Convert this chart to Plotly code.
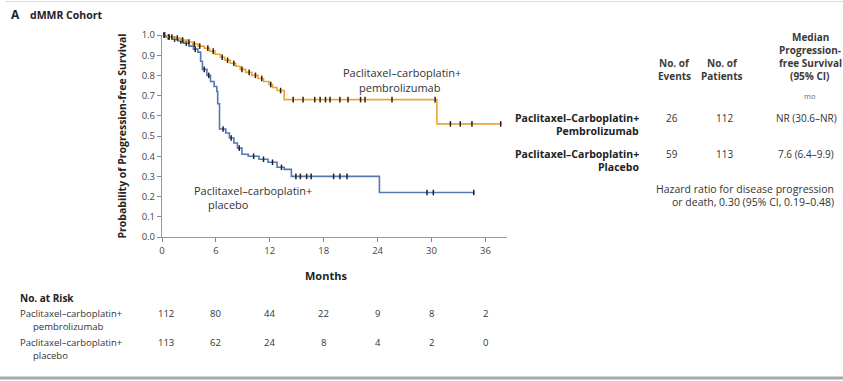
import plotly.graph_objects as go
import numpy as np

# ---------------- data ----------------
pembro_t = [0, 0.6, 1.3, 2.0, 2.8, 3.4, 4.0, 4.7, 5.3, 5.9, 6.5, 7.0, 7.6, 8.2, 8.7, 9.3, 10.0, 10.7,
            11.3, 11.9, 12.3, 12.8, 13.6, 30.6, 37.8]
pembro_s = [1.0, 0.99, 0.985, 0.975, 0.965, 0.955, 0.945, 0.935, 0.92, 0.905, 0.89, 0.875, 0.86, 0.845,
            0.83, 0.815, 0.80, 0.785, 0.77, 0.755, 0.74, 0.725, 0.68, 0.56, 0.56]
pembro_cens = [0.3, 0.8, 1.1, 1.7, 2.3, 3.0, 3.6, 4.2, 5.1, 5.7, 6.7, 7.3, 8.0, 8.9, 9.7, 10.4, 11.1,
               12.1, 13.2, 14.6, 15.7, 17.0, 17.6, 18.2, 18.7, 19.8, 20.7, 22.1, 22.6, 25.6, 30.4,
               32.1, 33.2, 34.5, 37.7]

placebo_t = [0, 0.5, 1.2, 1.8, 2.4, 3.0, 3.5, 4.0, 4.3, 4.5, 5.0, 5.4, 5.8, 6.1, 6.2, 6.4, 7.1, 7.5,
             8.0, 8.4, 8.9, 9.6, 10.8, 11.8, 12.8, 13.6, 14.4, 24.2, 34.8]
placebo_s = [1.0, 0.99, 0.98, 0.97, 0.96, 0.945, 0.93, 0.915, 0.87, 0.83, 0.80, 0.77, 0.745, 0.72,
             0.66, 0.535, 0.515, 0.49, 0.465, 0.44, 0.41, 0.40, 0.385, 0.37, 0.345, 0.335, 0.30,
             0.22, 0.22]
placebo_cens = [0.2, 0.7, 1.4, 2.1, 2.7, 3.7, 4.7, 5.2, 6.8, 7.7, 8.6, 10.2, 11.3, 12.3, 13.3, 14.9,
                15.4, 16.1, 16.6, 19.1, 19.8, 20.6, 29.5, 30.2, 34.7]

risk_months = [0, 6, 12, 18, 24, 30, 36]
risk_pembro = [112, 80, 44, 22, 9, 8, 2]
risk_placebo = [113, 62, 24, 8, 4, 2, 0]

x_ticks = [0, 6, 12, 18, 24, 30, 36]
y_ticks = [0.0, 0.1, 0.2, 0.3, 0.4, 0.5, 0.6, 0.7, 0.8, 0.9, 1.0]

table_cols = ["No. of<br>Events", "No. of<br>Patients", "Median<br>Progression-<br>free Survival<br>(95% CI)"]
row_labels = ["Paclitaxel–Carboplatin+<br>Pembrolizumab", "Paclitaxel–Carboplatin+<br>Placebo"]
events = ["26", "59"]
patients = ["112", "113"]
medians = ["NR (30.6–NR)", "7.6 (6.4–9.9)"]

ORANGE = "#EFA535"
BLUE = "#5577B2"
FONT = "Open Sans"
GRAY = "#444444"


def step_at(ts, ss, c):
    i = np.searchsorted(np.array(ts), c, side="right") - 1
    return ss[max(i, 0)]


fig = go.Figure()
for ts, ss, cens, col in [(placebo_t, placebo_s, placebo_cens, BLUE),
                          (pembro_t, pembro_s, pembro_cens, ORANGE)]:
    fig.add_trace(go.Scatter(x=ts, y=ss, mode="lines", line=dict(color=col, width=1.6, shape="hv"),
                             hoverinfo="skip", showlegend=False, cliponaxis=False))
    fig.add_trace(go.Scatter(x=cens, y=[step_at(ts, ss, c) for c in cens], mode="markers",
                             marker=dict(symbol="line-ns-open", size=4, color="#222",
                                         line=dict(color="#222", width=1.5)),
                             showlegend=False, cliponaxis=False))

fig.update_xaxes(range=[0, 38.4], tickvals=x_ticks, ticks="outside", ticklen=4, tickcolor="#888",
                 showline=True, linecolor="#999", linewidth=1.2, showgrid=False, zeroline=False,
                 tickfont=dict(family=FONT, size=9.5, color=GRAY))
fig.update_yaxes(range=[0, 1.0], tickvals=y_ticks, tickformat=".1f", ticks="outside", ticklen=4,
                 tickcolor="#888", showline=True, linecolor="#999", linewidth=1.2, showgrid=False,
                 zeroline=False, tickfont=dict(family=FONT, size=9.5, color=GRAY),
                 title=dict(text="<b>Probability of Progression-free Survival</b>",
                            font=dict(family=FONT, size=10.5, color="#222"), standoff=12))

ann = []
W, H = 843, 381
L, R, T, B = 162, 336, 35, 144
pw, ph = W - L - R, H - T - B
PX = lambda X: (X - L) / pw
PY = lambda Y: (H - B - Y) / ph


def txt(x, y, s, size=10, xanchor="left", color="#333", bold=False):
    ann.append(dict(x=PX(x), y=PY(y), xref="paper", yref="paper", text=(f"<b>{s}</b>" if bold else s),
                    showarrow=False, xanchor=xanchor, yanchor="middle",
                    font=dict(family=FONT, size=size, color=color)))


txt(9, 15, "A", size=12, bold=True, color="#222")
txt(28, 15, "dMMR Cohort", size=10.5, bold=True, color="#222")
txt(326, 275, "Months", size=11, bold=True, color="#222", xanchor="center")

# curve labels
txt(402, 73, "Paclitaxel–carboplatin+", size=11, xanchor="center")
txt(400, 87, "pembrolizumab", size=11, xanchor="center")
txt(192, 190, "Paclitaxel–carboplatin+", size=11)
txt(206, 204, "placebo", size=11)

# right table
col_x = [674, 722, 810]
hdr_y_bottom = 76
for cx, h in zip(col_x, table_cols):
    lines = h.split("<br>")
    for k, line in enumerate(reversed(lines)):
        txt(cx, hdr_y_bottom - 13 * k, line, size=10, xanchor="center", bold=True, color="#3a3a3a")
txt(810, 96, "mo", size=7.5, xanchor="center", color="#666")
row_y = [118, 154]
val_x = [672, 724, 806]
for ry, lab, e, p, m in zip(row_y, row_labels, events, patients, medians):
    l1, l2 = lab.split("<br>")
    txt(641, ry, l1, size=10.5, xanchor="right", bold=True, color="#222")
    txt(641, ry + 13, l2, size=10.5, xanchor="right", bold=True, color="#222")
    for vx, v in zip(val_x, [e, p, m]):
        txt(vx, ry, v, size=10, xanchor="center")
txt(836, 189, "Hazard ratio for disease progression", size=10.5, xanchor="right")
txt(836, 202, "or death, 0.30 (95% CI, 0.19–0.48)", size=10.5, xanchor="right")

# number at risk
txt(18, 298, "No. at Risk", size=10, bold=True, color="#222")
txt(18, 313, "Paclitaxel–carboplatin+", size=9.5)
txt(31, 326, "pembrolizumab", size=9.5)
txt(18, 342, "Paclitaxel–carboplatin+", size=9.5)
txt(31, 355, "placebo", size=9.5)
for m, a, b in zip(risk_months, risk_pembro, risk_placebo):
    for ry, v in [(313, a), (342, b)]:
        ann.append(dict(x=m + (0.4 if m == 0 else 0), y=PY(ry), xref="x", yref="paper", text=str(v),
                        showarrow=False, xanchor="center", yanchor="middle",
                        font=dict(family=FONT, size=9.5, color="#333")))

shapes = [
    dict(type="line", xref="paper", yref="paper", x0=PX(0), x1=PX(W), y0=PY(378), y1=PY(378),
         line=dict(color="#A8A8A8", width=3)),
    dict(type="line", xref="paper", yref="paper", x0=PX(5), x1=PX(W), y0=PY(1.5), y1=PY(1.5),
         line=dict(color="#DDDDDD", width=1)),
]

fig.update_layout(width=W, height=H, margin=dict(l=L, r=R, t=T, b=B, autoexpand=False),
                  paper_bgcolor="white", plot_bgcolor="white", annotations=ann, shapes=shapes,
                  font=dict(family=FONT))

fig.write_html("out.html")
